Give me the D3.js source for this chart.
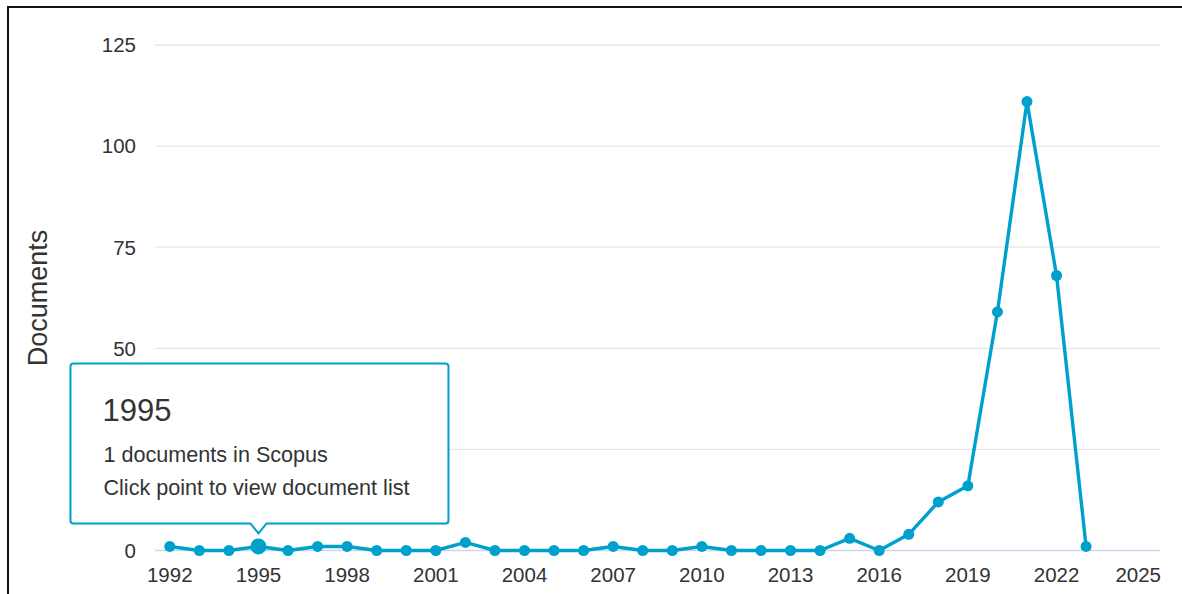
<!DOCTYPE html>
<html>
<head>
<meta charset="utf-8">
<script src="https://cdn.jsdelivr.net/npm/d3@7"></script>
<style>
  body { margin: 0; background: #fff; }
  text { font-family: "Liberation Sans", Arial, sans-serif; }
</style>
</head>
<body>
<svg id="chart" width="1182" height="594"></svg>
<script>
// documents per year
var years = [1992,1993,1994,1995,1996,1997,1998,1999,2000,2001,2002,2003,2004,2005,2006,2007,
             2008,2009,2010,2011,2012,2013,2014,2015,2016,2017,2018,2019,2020,2021,2022,2023];
var documents = [1,0,0,1,0,1,1,0,0,0,2,0,0,0,0,1,
                 0,0,1,0,0,0,0,3,0,4,12,16,59,111,68,1];
var xTicks = [1992,1995,1998,2001,2004,2007,2010,2013,2016,2019,2022,2025];
var yTicks = [0,25,50,75,100,125];
var hoverYear = 1995;
var tipLines = ["1 documents in Scopus", "Click point to view document list"];

var blue = "#00a0cc";
var svg = d3.select("#chart");

// outer frame (only top and left show in the crop)
svg.append("rect").attr("x",8).attr("y",7).attr("width",1200).attr("height",620)
   .attr("fill","none").attr("stroke","#111").attr("stroke-width",2);

var plot = {left:155, right:1160, top:45, bottom:550.5};

var x = d3.scaleLinear().domain([1991.5, 2025.5]).range([plot.left, plot.right]);
var y = d3.scaleLinear().domain([0, 125]).range([plot.bottom, plot.top]);

var pts = years.map((yr,i)=>({year:yr, value:documents[i]}));

// tooltip box geometry (hovered point)
var hp = pts.find(d=>d.year===hoverYear);
var px = x(hp.year), tipY = y(hp.value) - 13;
var bw = 378, bh = 160, r = 3, pw = 8, ph = 10;
var L = px - 188, B = tipY - ph, T = B - bh, R = L + bw;

// grid
svg.append("g").selectAll("line").data(yTicks.filter(d => d>0)).join("line")
   .attr("x1",plot.left).attr("x2",plot.right)
   .attr("y1",d=>y(d)).attr("y2",d=>y(d))
   .attr("stroke","#e6e6e6").attr("stroke-width",1.3);

// zero / x axis line
svg.append("line").attr("x1",plot.left).attr("x2",plot.right)
   .attr("y1",y(0)).attr("y2",y(0)).attr("stroke","#ccd6eb").attr("stroke-width",1.3);

// y labels (the one under the tooltip is hidden)
svg.append("g").selectAll("text").data(yTicks.filter(d => !(y(d) > T && y(d) < B))).join("text")
   .attr("x",136).attr("y",d=>y(d)).attr("dy","0.36em")
   .attr("text-anchor","end").attr("font-size",20.5).attr("fill","#333")
   .text(d=>d);

// x labels, last one kept inside the plot
var xl = svg.append("g").selectAll("text").data(xTicks).join("text")
   .attr("x",d=>x(d)).attr("y",582)
   .attr("text-anchor","middle").attr("font-size",20.5).attr("fill","#333")
   .text(d=>d);
xl.each(function(d){
    var w = this.getComputedTextLength();
    if (x(d) + w/2 > plot.right+1) d3.select(this).attr("x", plot.right + 1 - w/2);
});

// axis title
svg.append("text").attr("transform","translate(47,298) rotate(-90)")
   .attr("text-anchor","middle").attr("font-size",27).attr("fill","#333")
   .text("Documents");

var line = d3.line().x(d=>x(d.year)).y(d=>y(d.value));
svg.append("path").datum(pts).attr("d",line)
   .attr("fill","none").attr("stroke",blue).attr("stroke-width",3.4)
   .attr("stroke-linejoin","round");

svg.append("g").selectAll("circle").data(pts).join("circle")
   .attr("cx",d=>x(d.year)).attr("cy",d=>y(d.value))
   .attr("r",d=> d.year===hoverYear ? 8 : 5.5)
   .attr("fill",blue);

// tooltip
var p = d3.path();
p.moveTo(L+r, T);
p.lineTo(R-r, T); p.quadraticCurveTo(R, T, R, T+r);
p.lineTo(R, B-r); p.quadraticCurveTo(R, B, R-r, B);
p.lineTo(px+pw, B); p.lineTo(px, tipY); p.lineTo(px-pw, B);
p.lineTo(L+r, B); p.quadraticCurveTo(L, B, L, B-r);
p.lineTo(L, T+r); p.quadraticCurveTo(L, T, L+r, T);
p.closePath();

var tip = svg.append("g");
tip.append("path").attr("d",p.toString()).attr("transform","translate(1,2)")
   .attr("fill","rgba(0,0,0,0.05)");
tip.append("path").attr("d",p.toString())
   .attr("fill","#fff").attr("stroke",blue).attr("stroke-width",2);
tip.append("text").attr("x",L+32).attr("y",T+58).attr("font-size",31).attr("fill","#333")
   .text(hp.year);
tip.selectAll(".ln").data(tipLines).join("text").attr("class","ln")
   .attr("x",L+33).attr("y",(d,i)=>T+99+i*32.5).attr("font-size",21.6).attr("fill","#333")
   .text(d=>d);
</script>
</body>
</html>
